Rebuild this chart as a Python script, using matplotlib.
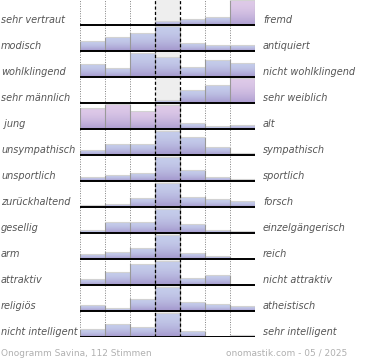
import matplotlib
matplotlib.use("Agg")
import matplotlib.pyplot as plt
import numpy as np

LEFT = ["sehr vertraut", "modisch", "wohlklingend", "sehr männlich", " jung",
        "unsympathisch", "unsportlich", "zurückhaltend", "gesellig", "arm",
        "attraktiv", "religiös", "nicht intelligent"]
RIGHT = ["fremd", "antiquiert", "nicht wohlklingend", "sehr weiblich", "alt",
         "sympathisch", "sportlich", "forsch", "einzelgängerisch", "reich",
         "nicht attraktiv", "atheistisch", "sehr intelligent"]

# bar heights per row, 7 steps each (full row ~ 26)
VALS = [
    [0, 0, 0, 3.5, 5.5, 7.5, 24],
    [9.3, 13.3, 17.7, 24.3, 7.7, 5.3, 5.3],
    [12.7, 8.3, 23.7, 19.7, 9.3, 16.7, 13.7],
    [0, 0, 0, 2, 12.3, 17.3, 24.7],
    [20.7, 24.3, 17.3, 23.5, 5, 2, 3.5],
    [4.3, 10.7, 10.7, 23.3, 17.3, 7.3, 1.7],
    [3.7, 5.3, 7.7, 23.7, 10.3, 3.3, 1.7],
    [1, 2.7, 8.7, 23.7, 9.7, 7, 5],
    [2, 10.3, 10.3, 23.7, 8, 2.7, 1],
    [4.7, 6.7, 10.7, 23, 5.7, 2.3, 0],
    [5.7, 12.7, 20.7, 23.3, 6, 9.3, 0],
    [5.3, 2, 11.7, 23.3, 8.3, 6, 4.3],
    [7, 12.7, 9.7, 23.7, 5, 0, 1.3],
]
# bars drawn in pink instead of blue
PINK = {(0, 6), (3, 6), (4, 0), (4, 1), (4, 2), (4, 3)}

FOOT_L = "Onogramm Savina, 112 Stimmen"
FOOT_R = "onomastik.com - 05 / 2025"

ROW_PX = 26.0
BLUE_T, BLUE_B = (0.77, 0.80, 0.92), (0.64, 0.59, 0.80)
PINK_T, PINK_B = (0.87, 0.79, 0.91), (0.68, 0.62, 0.82)
LBL = "#555555"

fig = plt.figure(figsize=(3.7, 3.6), dpi=100)
ax = fig.add_axes([80 / 370, 23 / 360, 175 / 370, 338 / 360])
nrow = len(VALS)

ax.axvspan(3, 4, color="#eeeeee", zorder=0, lw=0)
for x in (0, 1, 2, 5, 6, 7):
    ax.axvline(x, color="#808080", lw=0.7, ls=(0, (1, 1.5)), zorder=1)

grad = np.linspace(0, 1, 40)[:, None, None] ** 1.8
for r, row in enumerate(VALS):
    base = r + 1
    h = np.array(row) / ROW_PX
    for c, v in enumerate(h):
        if v <= 0:
            continue
        t, b = (PINK_T, PINK_B) if (r, c) in PINK else (BLUE_T, BLUE_B)
        img = np.array(t)[None, None, :] * (1 - grad) + np.array(b)[None, None, :] * grad
        ax.imshow(img, extent=(c, c + 1, base, base - v), aspect="auto",
                  interpolation="bilinear", zorder=2)
        ax.plot([c, c + 1], [base - v - 0.03, base - v - 0.03],
                color="#d2d2d2", lw=0.8, zorder=3)
    for e in range(8):
        left = h[e - 1] if e > 0 else 0
        right = h[e] if e < 7 else 0
        top = max(left, right)
        if top > 0:
            ax.plot([e, e], [base, base - top], color="#999999", lw=0.8, zorder=3)
    ax.plot([0, 7], [base, base], color="black", lw=1.4, zorder=5,
            solid_capstyle="butt")
    ax.text(-80 / 25 + 0.04, base - 0.2, LEFT[r], ha="left", va="center",
            fontsize=7, style="italic", color=LBL)
    ax.text(7 + 8 / 25, base - 0.2, RIGHT[r], ha="left", va="center",
            fontsize=7, style="italic", color=LBL)

for x in (3, 4):
    ax.axvline(x, color="black", lw=0.9, ls=(0, (2.5, 1.8)), zorder=6)

ax.set_xlim(0, 7)
ax.set_ylim(nrow, 0)
ax.axis("off")

fig.text(1 / 370, 1 - 353 / 360, FOOT_L, ha="left", va="center",
         fontsize=6.5, color="#b0b0b0")
fig.text(347 / 370, 1 - 353 / 360, FOOT_R, ha="right", va="center",
         fontsize=6.5, color="#b0b0b0")

fig.savefig("out.png", dpi=100)
